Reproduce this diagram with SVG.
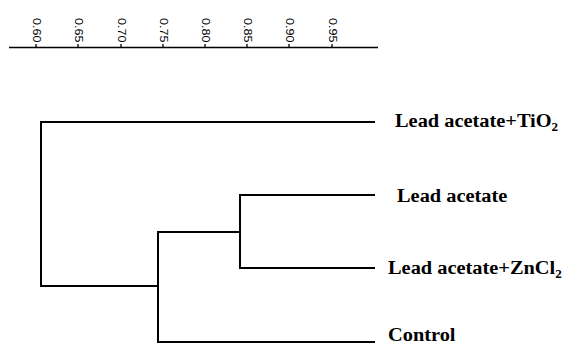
<svg xmlns="http://www.w3.org/2000/svg" width="564" height="345" viewBox="0 0 564 345">
<style>
.ax{stroke:#000;stroke-width:1.3;fill:none}
.tk{font-family:"Liberation Sans",Arial,sans-serif;font-size:10.5px;fill:#000}
.br{stroke:#000;stroke-width:2;fill:none;stroke-linecap:square}
.lb{font-family:"Liberation Serif","Times New Roman",serif;font-weight:bold;font-size:18.7px;fill:#000}
.sub{font-size:12px}
</style>
<rect width="564" height="345" fill="#fff"/>
<g id="axis">
<line class="ax" x1="9" y1="47.5" x2="378" y2="47.5"/>
<g class="ax">
<line x1="36" y1="44" x2="36" y2="47.5"/>
<line x1="78" y1="44" x2="78" y2="47.5"/>
<line x1="121" y1="44" x2="121" y2="47.5"/>
<line x1="163" y1="44" x2="163" y2="47.5"/>
<line x1="205" y1="44" x2="205" y2="47.5"/>
<line x1="247" y1="44" x2="247" y2="47.5"/>
<line x1="289" y1="44" x2="289" y2="47.5"/>
<line x1="332" y1="44" x2="332" y2="47.5"/>
</g>
<text class="tk" transform="translate(32.5,18) rotate(90) scale(1.2,1)">0.60</text>
<text class="tk" transform="translate(74.5,18) rotate(90) scale(1.2,1)">0.65</text>
<text class="tk" transform="translate(117.5,18) rotate(90) scale(1.2,1)">0.70</text>
<text class="tk" transform="translate(159.5,18) rotate(90) scale(1.2,1)">0.75</text>
<text class="tk" transform="translate(201.5,18) rotate(90) scale(1.2,1)">0.80</text>
<text class="tk" transform="translate(243.5,18) rotate(90) scale(1.2,1)">0.85</text>
<text class="tk" transform="translate(285.5,18) rotate(90) scale(1.2,1)">0.90</text>
<text class="tk" transform="translate(328.5,18) rotate(90) scale(1.2,1)">0.95</text>
</g>
<g id="connectors">
<path class="br" d="M374,122 H41 V286 H158"/>
<path class="br" d="M374,342 H158 V232 H240"/>
<path class="br" d="M374,195 H240 V268 H374"/>
</g>
<g id="node-tio2"><text class="lb" transform="translate(395,127) scale(1.09,1)">Lead acetate+TiO<tspan class="sub" dy="4">2</tspan></text></g>
<g id="node-lead"><text class="lb" transform="translate(397,202) scale(1.09,1)">Lead acetate</text></g>
<g id="node-zncl2"><text class="lb" transform="translate(388,274) scale(1.09,1)">Lead acetate+ZnCl<tspan class="sub" dy="4">2</tspan></text></g>
<g id="node-control"><text class="lb" transform="translate(388,340.5) scale(1.09,1)">Control</text></g>
</svg>
